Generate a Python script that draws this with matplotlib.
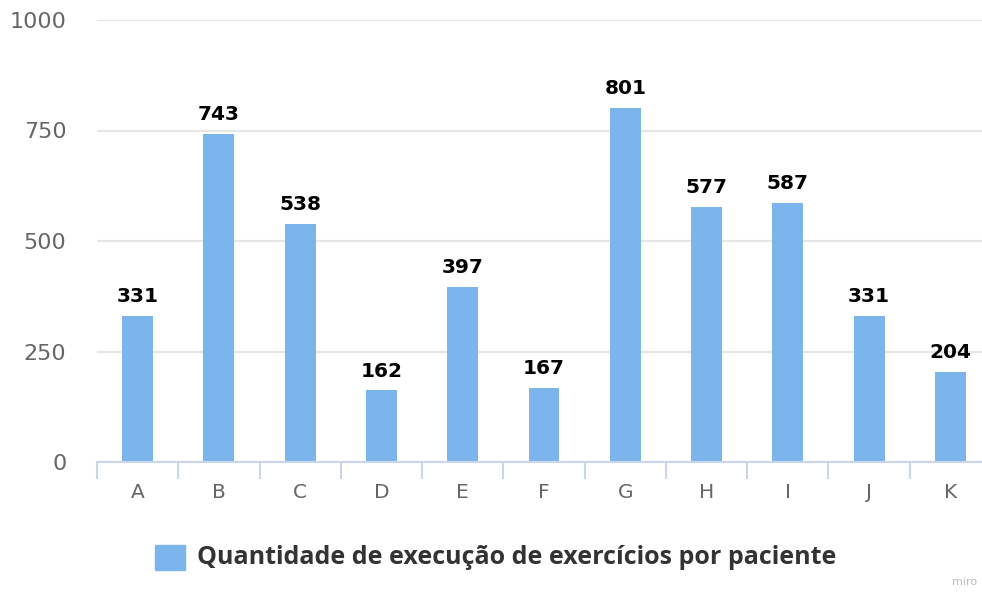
import matplotlib
matplotlib.use("Agg")
import matplotlib.pyplot as plt
from matplotlib.patches import Rectangle

categories = ["A", "B", "C", "D", "E", "F", "G", "H", "I", "J", "K"]
values = [331, 743, 538, 162, 397, 167, 801, 577, 587, 331, 204]
yticks = [0, 250, 500, 750, 1000]
series_name = "Quantidade de execução de exercícios por paciente"

W, H = 982, 592
fig = plt.figure(figsize=(W / 100, H / 100), dpi=100)
ax = fig.add_axes([97 / W, (H - 462) / H, 894 / W, (462 - 20) / H])

bar_color = "#7cb5ec"
x = list(range(len(categories)))
ax.bar(x, values, width=0.38, color=bar_color, zorder=3)

ax.set_xlim(-0.5, len(categories) - 0.5)
ax.set_ylim(0, 1000)
ax.set_yticks(yticks)
ax.set_yticklabels([str(t) for t in yticks])
ax.grid(axis="y", color="#e6e6e6", linewidth=1.5, zorder=0)
ax.set_axisbelow(True)

for s in ["top", "right", "left"]:
    ax.spines[s].set_visible(False)
ax.spines["bottom"].set_color("#ccd6eb")
ax.spines["bottom"].set_linewidth(1.5)
ax.spines["bottom"].set_zorder(4)

ax.tick_params(axis="y", length=0, pad=22, labelsize=16, labelcolor="#666666")
ax.set_xticks(x)
ax.set_xticklabels(categories)
ax.tick_params(axis="x", which="major", length=0, pad=15, labelsize=14.5, labelcolor="#666666")
ax.set_xticks([i - 0.5 for i in range(len(categories) + 1)], minor=True)
ax.tick_params(axis="x", which="minor", length=12.5, width=1.5, color="#ccd6eb")

for xi, v in zip(x, values):
    ax.annotate(str(v), (xi, v), xytext=(0, 10), textcoords="offset points",
                ha="center", va="baseline", fontsize=14.5, fontweight="bold", color="#000000")

# legend
fig.patches.append(Rectangle((155 / W, (H - 570) / H), 30 / W, 25 / H,
                             transform=fig.transFigure, color=bar_color))
fig.text(197 / W, (H - 557) / H, series_name, fontsize=18, fontweight="bold",
         color="#333333", ha="left", va="center", family="Open Sans")

fig.text(952 / W, (H - 582) / H, "miro", fontsize=8, color="#bbbbbb", ha="left", va="center")

fig.savefig("out.png", dpi=100)
